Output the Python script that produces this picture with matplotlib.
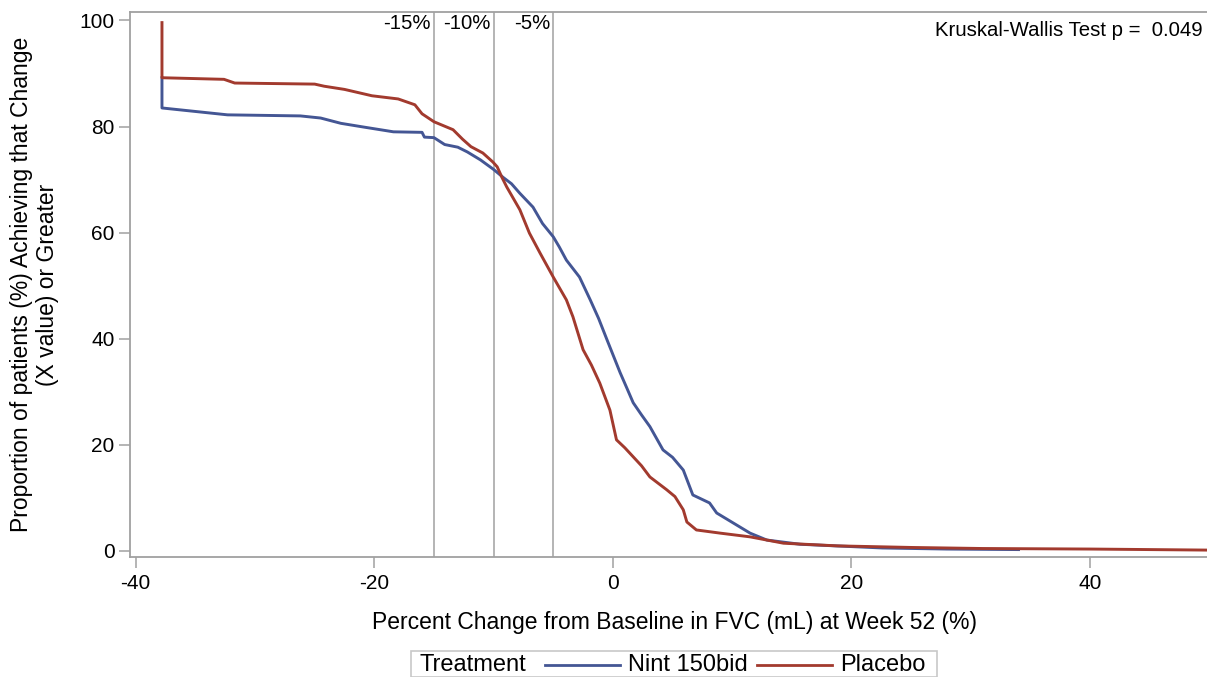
import matplotlib
matplotlib.use("Agg")
import matplotlib.pyplot as plt
from matplotlib.lines import Line2D
from matplotlib.patches import Rectangle

plt.rcParams['font.family'] = ['Liberation Sans', 'DejaVu Sans']
plt.rcParams['axes.unicode_minus'] = False

# cumulative distribution
placebo_x = [-37.8, -37.8, -32.6, -31.7, -25.0, -24.2, -22.5, -20.2, -18.0, -16.6, -16.0, -15.0,
             -13.4, -12.6, -11.9, -10.9, -10.06, -9.7, -9.3, -8.9, -7.8, -7.0, -6.1, -5.0, -3.9, -3.35,
             -2.5, -1.8, -1.1, -0.25, 0.3, 1.0, 1.7, 2.4, 3.1, 4.5, 5.2, 5.9, 6.2, 7.0, 9.0, 11.5, 14.3, 18.8,
             25.0, 31.0, 40.0, 50.0]
placebo_y = [99.6, 89.2, 88.9, 88.2, 88.0, 87.6, 87.0, 85.8, 85.2, 84.1, 82.4, 80.9,
             79.4, 77.6, 76.2, 75.0, 73.3, 72.4, 70.4, 68.6, 64.3, 59.9, 56.1, 51.6, 47.3, 44.1,
             37.9, 35.0, 31.6, 26.5, 20.9, 19.4, 17.7, 16.0, 13.9, 11.5, 10.2, 7.7, 5.4, 3.9, 3.3, 2.6, 1.4, 0.9,
             0.6, 0.4, 0.3, 0.1]

nint_x = [-37.8, -37.8, -32.3, -26.2, -24.5, -22.8, -20.9, -18.4, -16.0, -15.8, -15.0,
          -14.1, -13.0, -12.2, -11.1, -10.0, -9.2, -8.5, -7.8, -6.7, -5.9, -5.0, -4.5, -3.9, -2.8,
          -1.9, -1.2, -0.5, 0.6, 1.2, 1.7, 2.4, 3.1, 4.2, 5.0, 5.9, 6.7, 8.1, 8.7, 10.1, 11.5, 12.9, 15.7,
          22.6, 28.0, 34.0]
nint_y = [89.2, 83.5, 82.2, 82.0, 81.6, 80.6, 79.9, 79.0, 78.9, 78.0, 77.9,
          76.6, 76.1, 75.2, 73.7, 71.9, 70.4, 69.2, 67.4, 64.8, 61.7, 59.2, 57.3, 54.8, 51.6,
          47.3, 43.8, 39.8, 33.6, 30.5, 27.9, 25.6, 23.4, 19.0, 17.6, 15.2, 10.5, 9.0, 7.1, 5.2, 3.3, 2.0, 1.2,
          0.5, 0.3, 0.2]

ref_lines = [-15, -10, -5]
ref_labels = ['-15%', '-10%', '-5%']
x_ticks = [-40, -20, 0, 20, 40]
y_ticks = [0, 20, 40, 60, 80, 100]
p_text = 'Kruskal-Wallis Test p =  0.049'

blue = '#445694'
red = '#A23A2E'
grey = '#A0A0A0'

fig = plt.figure(figsize=(12.07, 6.77), dpi=100)
ax = fig.add_axes([130/1207, 1 - 557/677, 1 - 130/1207, (557 - 12)/677])

for xv, lab in zip(ref_lines, ref_labels):
    ax.axvline(xv, color=grey, lw=1.1, zorder=1)
    ax.annotate(lab, xy=(xv, 99.4), xytext=(-3, 0), textcoords='offset pixels',
                ha='right', va='center', fontsize=14.6)

ax.plot(nint_x, nint_y, color=blue, lw=2.1, zorder=3)
ax.plot(placebo_x, placebo_y, color=red, lw=2.1, zorder=4)

ax.set_xlim(-40.48, 49.8)
ax.set_ylim(-1.2, 101.6)
ax.set_xticks(x_ticks)
ax.set_yticks(y_ticks)
ax.tick_params(labelsize=15, color=grey, length=8, width=1.1)
ax.tick_params(axis='x', pad=4)
ax.tick_params(axis='y', pad=3)
for side in ['left', 'bottom', 'top']:
    ax.spines[side].set_color(grey)
    ax.spines[side].set_linewidth(1.3)
ax.spines['right'].set_visible(False)

ax.set_xlabel('Percent Change from Baseline in FVC (mL) at Week 52 (%)', fontsize=16.5)
ax.xaxis.set_label_coords(0.506, -0.1)
ax.set_ylabel('Proportion of patients (%) Achieving that Change\n(X value) or Greater',
              fontsize=16.5, linespacing=1.18)
ax.yaxis.set_label_coords(-0.066, 0.5)

fig.text(1203/1207, 1 - 31/677, p_text, ha='right', va='center', fontsize=14.7)

# legend drawn by hand, SAS style
fig.add_artist(Rectangle((411/1207, 0), (937 - 411)/1207, (677 - 651)/677,
                         transform=fig.transFigure, fill=False, ec='#C8C8C8', lw=1.2))
ly = 1 - 665/677
fig.text(420/1207, ly, 'Treatment', ha='left', va='center', fontsize=17)
fig.add_artist(Line2D([545/1207, 620/1207], [ly, ly], color=blue, lw=2.0))
fig.text(628/1207, ly, 'Nint 150bid', ha='left', va='center', fontsize=17)
fig.add_artist(Line2D([757/1207, 832/1207], [ly, ly], color=red, lw=2.0))
fig.text(840/1207, ly, 'Placebo', ha='left', va='center', fontsize=17)

fig.savefig('out.png', dpi=100)
